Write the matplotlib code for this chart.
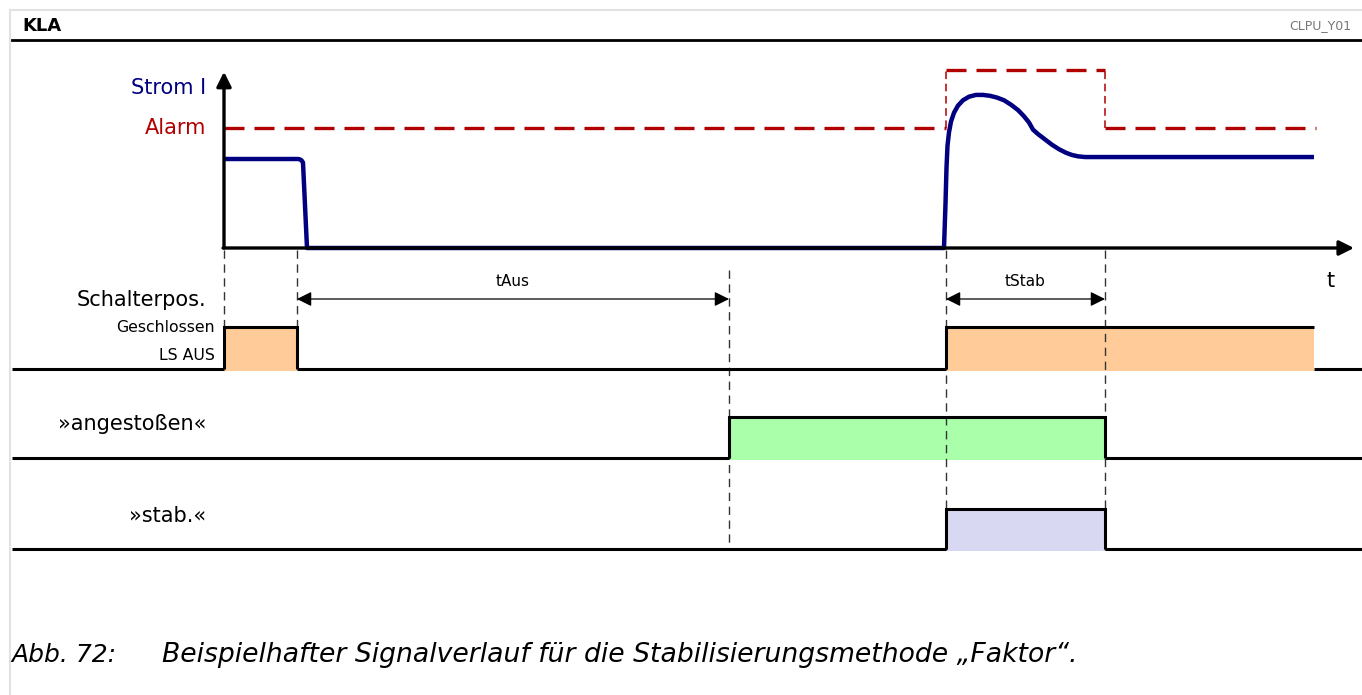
# Signal timing diagram for the "Faktor" stabilisation method (KLA / CLPU)

import matplotlib.pyplot as plt
from matplotlib.patches import Polygon

# ---- data -------------------------------------------------------------
# event times on the common time axis (same units as the horizontal scale)
t_start = 224      # origin of the time axis
t_trip = 297       # breaker opens (LS AUS)
t_aus_end = 729    # tAus elapsed -> »angestoßen«
t_close = 946      # breaker closes again
t_stab_end = 1105  # tStab elapsed
t_end = 1314       # end of drawn signals

# current I (arbitrary units, load current = 1.0)
current_t = [224, 298, 300, 301.5, 303, 307, 944, 945.5, 946.5, 947.5, 949,
             951, 954, 958, 963, 969, 976, 983, 990, 997, 1004, 1011, 1018,
             1024, 1029, 1033, 1038, 1045, 1052, 1059, 1066, 1072, 1078, 1085,
             1314]
current_i = [1.0, 1.0, 0.995, 0.985, 0.96, 0.0, 0.0, 0.5, 0.9, 1.15, 1.3,
             1.42, 1.52, 1.6, 1.66, 1.70, 1.72, 1.72, 1.71, 1.69, 1.66, 1.61,
             1.55, 1.48, 1.41, 1.33, 1.28, 1.22, 1.16, 1.11, 1.07, 1.045,
             1.03, 1.022, 1.022]

# alarm threshold (raised by the factor during tStab)
alarm_normal = 1.35
alarm_raised = 2.0

# binary signal rows
row_labels = ["Schalterpos.", "»angestoßen«", "»stab.«"]
state_labels = ["Geschlossen", "LS AUS"]

# ---- figure -----------------------------------------------------------
W, H = 1362, 695
fig = plt.figure(figsize=(W / 100, H / 100), dpi=100)
ax = fig.add_axes([0, 0, 1, 1])
ax.set_xlim(0, W)
ax.set_ylim(H, 0)
ax.axis("off")

navy = "#000080"
red = "#b00000"
dash_col = "#333333"

# frame + header
ax.plot([10, W], [10, 10], color="#e2e2e2", lw=1.5)
ax.plot([10, 10], [10, H], color="#e2e2e2", lw=1.5)
ax.plot([12, W], [40, 40], color="black", lw=2)
ax.text(22, 26, "KLA", fontsize=13, fontweight="bold", va="center", ha="left")
ax.text(1351, 26, "CLPU_Y01", fontsize=9, color="#777777", va="center", ha="right")

# ---- current panel (own axes: x = time, y = current) ------------------
y_base, y_top = 248, 70
ax_i = fig.add_axes([0, (H - y_base) / H, 1, (y_base - y_top) / H])
ax_i.set_xlim(0, W)
ax_i.set_ylim(0, alarm_raised)
ax_i.axis("off")

ax_i.annotate("", xy=(t_start, 1.98), xytext=(t_start, 0),
              arrowprops=dict(arrowstyle="-|>", lw=2.4, color="black",
                              mutation_scale=22, shrinkA=0, shrinkB=0),
              annotation_clip=False)
ax_i.annotate("", xy=(1354, 0), xytext=(t_start - 1, 0),
              arrowprops=dict(arrowstyle="-|>", lw=2.4, color="black",
                              mutation_scale=22, shrinkA=0, shrinkB=0),
              annotation_clip=False)

# alarm threshold: horizontal parts thick, step edges thin
ax_i.plot([t_start, t_close], [alarm_normal] * 2, color=red, lw=2.4,
          dashes=(6, 3), clip_on=False)
ax_i.plot([t_close, t_stab_end], [alarm_raised] * 2, color=red, lw=2.4,
          dashes=(6, 3), clip_on=False)
ax_i.plot([t_stab_end, t_end + 2], [alarm_normal] * 2, color=red, lw=2.4,
          dashes=(6, 3), clip_on=False)
for tx in (t_close, t_stab_end):
    ax_i.plot([tx, tx], [alarm_normal, alarm_raised], color=red, lw=1.1,
              dashes=(5, 3), clip_on=False)

ax_i.plot(current_t, current_i, color=navy, lw=3.2, solid_joinstyle="round",
          solid_capstyle="butt", clip_on=False)

ax.text(206, 88, "Strom I", color=navy, fontsize=15, ha="right", va="center")
ax.text(206, 128, "Alarm", color=red, fontsize=15, ha="right", va="center")
ax.text(1331, 281, "t", fontsize=15, ha="center", va="center")

# ---- vertical event markers ------------------------------------------
markers = [(t_start, 250, 326), (t_trip, 250, 326), (t_aus_end, 270, 546),
           (t_close, 250, 550), (t_stab_end, 250, 550)]
for tx, y0, y1 in markers:
    ax.plot([tx, tx], [y0, y1], color=dash_col, lw=1.0, dashes=(6, 4))


# dimension arrows
def dim_arrow(x0, x1, y, label):
    ax.annotate("", xy=(x0, y), xytext=(x1, y),
                arrowprops=dict(arrowstyle="<|-|>", lw=0.9, color="black",
                                mutation_scale=22, shrinkA=0, shrinkB=0))
    ax.text((x0 + x1) / 2, y - 18, label, fontsize=11, ha="center", va="center")


dim_arrow(t_trip, t_aus_end, 299, "tAus")
dim_arrow(t_close, t_stab_end, 299, "tStab")

# ---- binary rows -----------------------------------------------------
row_base = [369, 458, 549]
row_top = [327, 417, 509]
row_pulses = [
    [(t_start, t_trip, True), (t_close, t_end, False)],
    [(t_aus_end, t_stab_end, True)],
    [(t_close, t_stab_end, True)],
]
row_colors = ["#ffcc99", "#aaffaa", "#d8d8f2"]

for base, top, pulses, col in zip(row_base, row_top, row_pulses, row_colors):
    # baseline segments between pulses
    xs = [12]
    for on, off, closed in pulses:
        xs += [on, off]
    xs.append(W)
    for i in range(0, len(xs), 2):
        ax.plot([xs[i], xs[i + 1]], [base, base], color="black", lw=2.2,
                solid_capstyle="butt")
    for on, off, closed in pulses:
        ax.add_patch(Polygon([[on, base + 2], [on, top], [off, top], [off, base + 2]],
                             closed=True, facecolor=col, edgecolor="none", zorder=1))
        px = [on, on, off]
        py = [base, top, top]
        if closed:
            px.append(off)
            py.append(base)
        ax.plot(px, py, color="black", lw=2.2, solid_joinstyle="miter",
                solid_capstyle="butt", zorder=3)

ax.text(206, 300, row_labels[0], fontsize=15, ha="right", va="center")
ax.text(215, 328, state_labels[0], fontsize=11.3, ha="right", va="center")
ax.text(215, 356, state_labels[1], fontsize=11.3, ha="right", va="center")
ax.text(206, 424, row_labels[1], fontsize=15, ha="right", va="center")
ax.text(206, 516, row_labels[2], fontsize=15, ha="right", va="center")

# caption
ax.text(11, 655, "Abb. 72:", fontsize=18, style="italic", ha="left", va="center")
ax.text(162, 655, "Beispielhafter Signalverlauf für die Stabilisierungsmethode „Faktor“.",
        fontsize=19.2, style="italic", ha="left", va="center")

fig.savefig("out.png", dpi=100)
